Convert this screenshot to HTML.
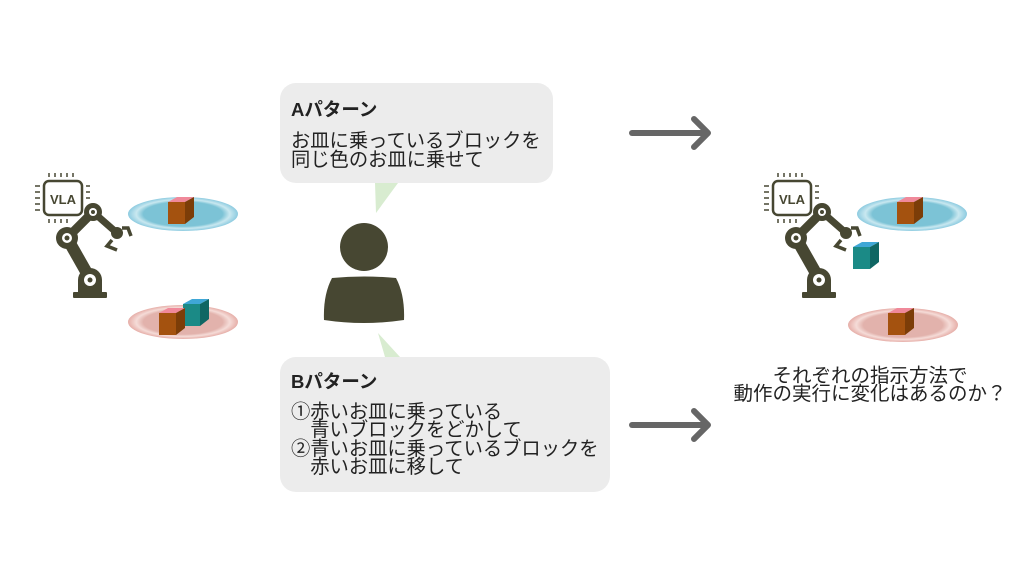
<!DOCTYPE html>
<html><head><meta charset="utf-8"><style>
body{margin:0;width:1024px;height:576px;background:#fff;position:relative;overflow:hidden;font-family:"Liberation Sans","Noto Sans CJK JP",sans-serif;color:#222}
.box{position:absolute;background:#ececec;border-radius:16px}
.t{position:absolute;font-weight:bold;font-size:18.5px;white-space:nowrap}
.b{position:absolute;font-size:19.3px;line-height:19px;white-space:nowrap}
</style></head><body>
<svg width="1024" height="576" style="position:absolute;left:0;top:0">
<defs>
<g id="robot" fill="#474732" stroke="#474732">
 <rect x="44" y="181" width="38" height="34" rx="5" fill="none" stroke-width="2.5"/>
 <g stroke-width="1.5">
  <line x1="49" y1="173" x2="49" y2="177"/><line x1="55" y1="173" x2="55" y2="177"/><line x1="61" y1="173" x2="61" y2="177"/><line x1="67" y1="173" x2="67" y2="177"/><line x1="73" y1="173" x2="73" y2="177"/>
  <line x1="49" y1="219" x2="49" y2="223"/><line x1="55" y1="219" x2="55" y2="223"/><line x1="61" y1="219" x2="61" y2="223"/><line x1="67" y1="219" x2="67" y2="223"/>
  <line x1="35" y1="186" x2="40" y2="186"/><line x1="35" y1="192" x2="40" y2="192"/><line x1="35" y1="198" x2="40" y2="198"/><line x1="35" y1="204" x2="40" y2="204"/><line x1="35" y1="210" x2="40" y2="210"/>
  <line x1="86" y1="186" x2="90" y2="186"/><line x1="86" y1="192" x2="90" y2="192"/><line x1="86" y1="198" x2="90" y2="198"/>
 </g>
 <text x="63" y="204" font-size="13" font-weight="bold" text-anchor="middle" stroke="none" font-family="Liberation Sans,sans-serif">VLA</text>
 <line x1="67" y1="238" x2="93" y2="212" stroke-width="9"/>
 <line x1="93" y1="212" x2="117" y2="233" stroke-width="7"/>
 <line x1="67" y1="238" x2="88" y2="275" stroke-width="12"/>
 <path d="M78 292 v-12 a12 12 0 0 1 24 0 v12z" stroke="none"/>
 <rect x="73" y="292" width="34" height="6" rx="1" stroke="none"/>
 <circle cx="93" cy="212" r="9" stroke="none"/><circle cx="93" cy="212" r="4" fill="#fff" stroke="none"/><circle cx="93" cy="212" r="2" stroke="none"/>
 <circle cx="67" cy="238" r="11" stroke="none"/><circle cx="67" cy="238" r="5" fill="#fff" stroke="none"/><circle cx="67" cy="238" r="2.5" stroke="none"/>
 <circle cx="90" cy="280" r="6" fill="#fff" stroke="none"/><circle cx="90" cy="280" r="2.5" stroke="none"/>
 <circle cx="117" cy="233" r="6" stroke="none"/>
</g>
<radialGradient id="bl" cx="50%" cy="50%" r="50%"><stop offset="0.72" stop-color="#7cc3d6"/><stop offset="0.85" stop-color="#c9e8f0"/><stop offset="1" stop-color="#8dcbe0"/></radialGradient>
<radialGradient id="rd" cx="50%" cy="50%" r="50%"><stop offset="0.72" stop-color="#e2b2ac"/><stop offset="0.85" stop-color="#f5dcd8"/><stop offset="1" stop-color="#e6aea8"/></radialGradient>
<g id="cubeR"><path d="M0 5 l9 -5 h17 l-9 5z" fill="#f0899a"/><rect x="0" y="5" width="17" height="22" fill="#a4520f"/><path d="M17 5 l9 -5 v20 l-9 7z" fill="#7c3d08"/></g>
<g id="cubeB"><path d="M0 5 l9 -5 h17 l-9 5z" fill="#3fa7d6"/><rect x="0" y="5" width="17" height="22" fill="#1b8a86"/><path d="M17 5 l9 -5 v20 l-9 7z" fill="#0f6663"/></g>
</defs>
<!-- left -->
<ellipse cx="183" cy="214" rx="55" ry="17" fill="url(#bl)"/>
<use href="#cubeR" x="168" y="197"/>
<use href="#robot"/>
<path d="M112 240 l-5 6 l10 4 M122 228 l6 0 l3 8" stroke="#474732" stroke-width="3.5" fill="none"/>
<ellipse cx="183" cy="322" rx="55" ry="17" fill="url(#rd)"/>
<use href="#cubeB" x="183" y="299"/>
<use href="#cubeR" x="159" y="308"/>
<!-- right -->
<ellipse cx="912" cy="214" rx="55" ry="17" fill="url(#bl)"/>
<use href="#cubeR" x="897" y="197"/>
<use href="#robot" x="729" y="0"/>
<path d="M841 240 l-5 6 l10 4 M851 228 l6 0 l3 8" stroke="#474732" stroke-width="3.5" fill="none"/>
<use href="#cubeB" x="853" y="242"/>
<ellipse cx="903" cy="325" rx="55" ry="17" fill="url(#rd)"/>
<use href="#cubeR" x="888" y="308"/>
<!-- tails -->
<polygon points="375,183 398,183 376,213" fill="#d8ecd0"/>
<polygon points="378,333 400,357 385,357" fill="#d8ecd0"/>
<!-- person -->
<circle cx="364" cy="247" r="24" fill="#474732"/>
<path d="M332 278 Q364 275 396 278 Q405 295 404 320 Q364 326 324 320 Q323 295 332 278z" fill="#474732"/>
<!-- arrows -->
<g stroke="#666" stroke-width="6" stroke-linecap="round" stroke-linejoin="round" fill="none">
<line x1="632" y1="133" x2="706" y2="133"/><polyline points="694,119 708,133 694,147"/>
<line x1="632" y1="425" x2="706" y2="425"/><polyline points="694,411 708,425 694,439"/>
</g>
</svg>
<div class="box" style="left:280px;top:83px;width:273px;height:100px"></div>
<div class="t" style="left:291px;top:96px">Aパターン</div>
<div class="b" style="left:291px;top:132px">お皿に乗っているブロックを<br>同じ色のお皿に乗せて</div>
<div class="box" style="left:280px;top:357px;width:330px;height:135px"></div>
<div class="t" style="left:291px;top:368px">Bパターン</div>
<div class="b" style="left:291px;top:404px;line-height:18.3px">①赤いお皿に乗っている<br>　青いブロックをどかして<br>②青いお皿に乗っているブロックを<br>　赤いお皿に移して</div>
<div class="b" style="left:680px;width:380px;top:368px;text-align:center;line-height:17.5px;font-size:19.5px">それぞれの指示方法で<br>動作の実行に変化はあるのか？</div>
</body></html>
